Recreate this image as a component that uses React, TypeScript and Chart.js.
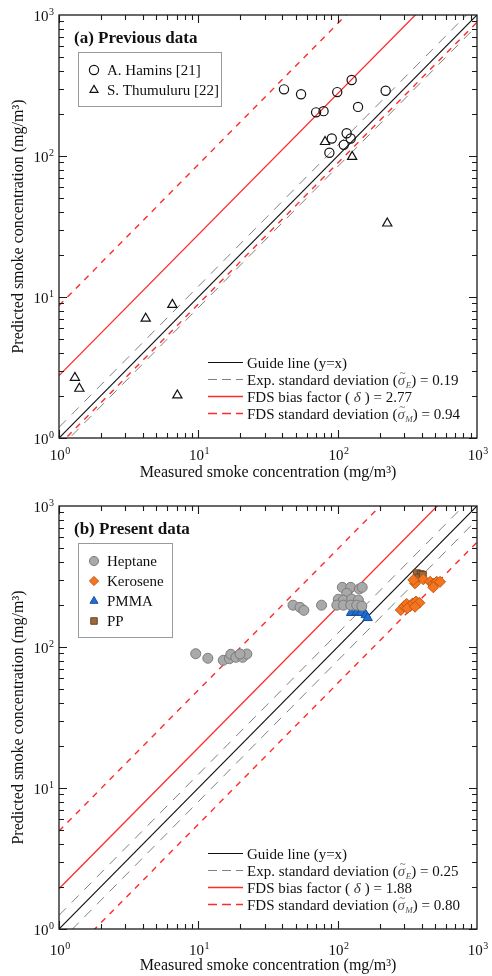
import React, { useEffect, useRef } from "react";
import { Chart, registerables } from "chart.js";
import { drawPoint } from "chart.js/helpers";

Chart.register(...registerables);

const FONT = '"Liberation Serif", "Times New Roman", serif';

// ---------- Data: panel (a) previous data ----------
const haminsX = [41.2, 54.6, 70.0, 79.2, 99.3, 126, 140, 221, 90.7, 87.2, 110.6, 116, 124];
const haminsY = [297, 274, 204, 208, 284, 346, 223, 290, 133, 105.5, 120, 145, 133];
const thumuluruX = [81.2, 127, 227, 6.51, 4.19, 1.3, 1.4, 7.07];
const thumuluruY = [126, 98.9, 33.3, 8.82, 7.04, 2.68, 2.24, 2.01];

// line multipliers for panel (a)
const guideA = 1;
const expUpperA = 1.19;
const expLowerA = 0.84;
const biasA = 2.77;
const fdsUpperA = 8.7;
const fdsLowerA = 0.89;

// ---------- Data: panel (b) present data ----------
const heptaneX = [9.58, 11.7, 15.1, 16.7, 17.1, 18.6, 20.8, 22.3, 19.9, 47.8, 53.7, 57.2, 76.6, 108, 124, 143, 150, 116, 101, 110, 126, 141, 98.6, 110, 124, 137, 149];
const heptaneY = [89.6, 83.2, 80.5, 82.6, 88.8, 84.5, 84.5, 89.2, 89.2, 198, 191, 182, 198, 265, 265, 258, 265, 240, 218, 215, 219, 215, 198, 198, 198, 198, 195];
const keroseneX = [284, 300, 313, 331, 346, 365, 386, 316, 359, 359, 412, 461, 486, 514, 543, 486, 349];
const keroseneY = [183, 195, 202, 195, 204, 210, 206, 188, 193, 283, 302, 290, 280, 290, 290, 265, 299];
const pmmaX = [125, 137, 147, 159, 164];
const pmmaY = [175, 177, 175, 169, 161];
const ppX = [370, 395, 380, 408];
const ppY = [333, 328, 310, 324];

const guideB = 1;
const expUpperB = 1.25;
const expLowerB = 0.8;
const biasB = 1.93;
const fdsUpperB = 4.95;
const fdsLowerB = 0.553;

// ---------- Labels ----------
const tickExponents = ["0", "1", "2", "3"];
const xTitle = "Measured smoke concentration (mg/m\u00B3)";
const yTitle = "Predicted smoke concentration (mg/m\u00B3)";
const titleA = "(a) Previous data";
const titleB = "(b) Present data";
const sigmaEA = "0.19";
const sigmaMA = "0.94";
const deltaA = "2.77";
const sigmaEB = "0.25";
const sigmaMB = "0.80";
const deltaB = "1.88";

const pts = (xs: number[], ys: number[]) => xs.map((x, i) => ({ x, y: ys[i] }));
const lineOf = (k: number) => [
  { x: 1, y: k },
  { x: 1000, y: 1000 * k },
];

const BLACK_LINE = { borderColor: "#111", borderWidth: 1.2, borderDash: [] as number[] };
const GRAY_DASH = { borderColor: "#808080", borderWidth: 1, borderDash: [10, 8] };
const RED_LINE = { borderColor: "#ff2a2a", borderWidth: 1.3, borderDash: [] as number[] };
const RED_DASH = { borderColor: "#ff2a2a", borderWidth: 1.4, borderDash: [6, 6] };

function lineDS(label: string, k: number, style: any) {
  return {
    label,
    data: lineOf(k),
    showLine: true,
    pointRadius: 0,
    pointHoverRadius: 0,
    fill: false,
    tension: 0,
    ...style,
  };
}

type Seg = { t: string; italic?: boolean; sub?: boolean; tilde?: boolean; color?: string };

function drawSegs(ctx: CanvasRenderingContext2D, segs: Seg[], x: number, y: number, size: number) {
  let cx = x;
  for (const s of segs) {
    const fs = s.sub ? Math.round(size * 0.62) : size;
    ctx.font = `${s.italic ? "italic " : ""}${fs}px ${FONT}`;
    ctx.fillStyle = s.color || "#111";
    ctx.fillText(s.t, cx, s.sub ? y + 3.5 : y);
    const w = ctx.measureText(s.t).width;
    if (s.tilde) {
      ctx.font = `${Math.round(size * 0.7)}px ${FONT}`;
      ctx.textAlign = "center";
      ctx.fillText("~", cx + w / 2 + 1.2, y - 8.5);
      ctx.textAlign = "left";
    }
    cx += w + (s.italic && !s.sub ? 0.5 : 0);
  }
}

function drawPow(ctx: CanvasRenderingContext2D, exp: string, x: number, y: number, align: "right" | "center") {
  ctx.font = `15px ${FONT}`;
  const w1 = ctx.measureText("10").width;
  ctx.font = `10px ${FONT}`;
  const w2 = ctx.measureText(exp).width;
  const total = w1 + w2 + 0.5;
  const start = align === "right" ? x - total : x - total / 2;
  ctx.fillStyle = "#111";
  ctx.font = `15px ${FONT}`;
  ctx.fillText("10", start, y);
  ctx.font = `10px ${FONT}`;
  ctx.fillText(exp, start + w1 + 0.5, y - 6.5);
}

type Panel = {
  title: string;
  markerLegend: { label: string; ds: number }[];
  lineLegend: { segs: Seg[]; style: any }[];
  tickOff: number;
  titleOff: number;
};

function decorPlugin(p: Panel) {
  return {
    id: "decor",
    afterDraw(chart: any) {
      const { ctx, chartArea: a } = chart;
      const xs = chart.scales.x;
      const ys = chart.scales.y;
      ctx.save();
      ctx.textAlign = "left";
      ctx.textBaseline = "alphabetic";

      // frame
      ctx.strokeStyle = "#1a1a1a";
      ctx.lineWidth = 1.3;
      ctx.strokeRect(a.left, a.top, a.right - a.left, a.bottom - a.top);

      // inward ticks on four sides
      ctx.lineWidth = 1.1;
      ctx.beginPath();
      for (let d = 0; d < 3; d++) {
        for (let m = 1; m <= 9; m++) {
          const v = m * Math.pow(10, d);
          const len = m === 1 ? 8 : 5;
          const px = Math.round(xs.getPixelForValue(v)) + 0.5;
          const py = Math.round(ys.getPixelForValue(v)) + 0.5;
          ctx.moveTo(px, a.bottom);
          ctx.lineTo(px, a.bottom - len);
          ctx.moveTo(px, a.top);
          ctx.lineTo(px, a.top + len);
          ctx.moveTo(a.left, py);
          ctx.lineTo(a.left + len, py);
          ctx.moveTo(a.right, py);
          ctx.lineTo(a.right - len, py);
        }
      }
      ctx.stroke();

      // tick labels
      tickExponents.forEach((e, i) => {
        const v = Math.pow(10, i);
        const px = xs.getPixelForValue(v);
        const py = ys.getPixelForValue(v);
        drawPow(ctx, e, px + 1, a.bottom + p.tickOff + 5, "center");
        drawPow(ctx, e, 54, py + 6, "right");
      });

      // axis titles
      ctx.fillStyle = "#111";
      ctx.font = `16px ${FONT}`;
      ctx.textAlign = "center";
      ctx.fillText(xTitle, (a.left + a.right) / 2, a.bottom + p.titleOff + 5);
      ctx.save();
      ctx.translate(23, (a.top + a.bottom) / 2);
      ctx.rotate(-Math.PI / 2);
      ctx.fillText(yTitle, 0, 0);
      ctx.restore();
      ctx.textAlign = "left";

      // panel title
      ctx.font = `bold 17px ${FONT}`;
      ctx.fillText(p.title, 74, a.top + 28);

      // marker legend box
      const n = p.markerLegend.length;
      const boxTop = a.top + 37;
      const boxH = 14 + 20 * n;
      ctx.fillStyle = "#fff";
      ctx.fillRect(78.5, boxTop + 0.5, n === 2 ? 143 : 94, boxH);
      ctx.strokeStyle = "#9a9a9a";
      ctx.lineWidth = 1;
      ctx.strokeRect(78.5, boxTop + 0.5, n === 2 ? 143 : 94, boxH);
      p.markerLegend.forEach((it, i) => {
        const cy = a.top + 55 + 20 * i;
        const ds = chart.data.datasets[it.ds];
        ctx.save();
        ctx.fillStyle = ds.backgroundColor;
        ctx.strokeStyle = ds.borderColor;
        ctx.lineWidth = ds.borderWidth;
        drawPoint(ctx, { pointStyle: ds.pointStyle, radius: Math.min(ds.pointRadius, 4.6), borderWidth: ds.borderWidth, rotation: 0 }, 94, cy);
        ctx.restore();
        ctx.fillStyle = "#111";
        ctx.font = `15px ${FONT}`;
        ctx.fillText(it.label, 107, cy + 5);
      });

      // line legend
      p.lineLegend.forEach((it, i) => {
        const cy = Math.round(a.bottom - 76 + 17 * i) + 0.5;
        ctx.save();
        ctx.strokeStyle = it.style.borderColor;
        ctx.lineWidth = it.style.borderWidth;
        ctx.setLineDash(it.style.borderDash.length ? [9, 5] : []);
        ctx.beginPath();
        ctx.moveTo(208, cy);
        ctx.lineTo(243, cy);
        ctx.stroke();
        ctx.restore();
        drawSegs(ctx, it.segs, 247, cy + 5, 15);
      });

      ctx.restore();
    },
  };
}

function lineLegendSegs(sE: string, d: string, sM: string) {
  return [
    { segs: [{ t: "Guide line (y=x)" }], style: BLACK_LINE },
    {
      segs: [
        { t: "Exp. standard deviation (" },
        { t: "\u03C3", italic: true, tilde: true, color: "#555" },
        { t: "E", italic: true, sub: true, color: "#555" },
        { t: ") = " + sE },
      ],
      style: GRAY_DASH,
    },
    {
      segs: [{ t: "FDS bias factor ( " }, { t: "\u03B4", italic: true, color: "#333" }, { t: " ) = " + d }],
      style: RED_LINE,
    },
    {
      segs: [
        { t: "FDS standard deviation (" },
        { t: "\u03C3", italic: true, tilde: true, color: "#555" },
        { t: "M", italic: true, sub: true, color: "#555" },
        { t: ") = " + sM },
      ],
      style: RED_DASH,
    },
  ];
}

function baseOptions(padTop: number, xAxisH: number) {
  return {
    responsive: false,
    animation: false as const,
    devicePixelRatio: 1,
    layout: { padding: { left: 0, right: 15, top: padTop, bottom: 0 } },
    plugins: { legend: { display: false }, tooltip: { enabled: false } },
    events: [] as any[],
    scales: {
      x: {
        type: "logarithmic" as const,
        min: 1,
        max: 1000,
        position: "bottom" as const,
        grid: { display: false },
        border: { display: false },
        ticks: { display: false },
        afterFit: (s: any) => {
          s.height = xAxisH;
        },
      },
      y: {
        type: "logarithmic" as const,
        min: 1,
        max: 1000,
        position: "left" as const,
        grid: { display: false },
        border: { display: false },
        ticks: { display: false },
        afterFit: (s: any) => {
          s.width = 59;
        },
      },
    },
  };
}

function makeConfigA(): any {
  const datasets = [
    {
      label: "A. Hamins [21]",
      data: pts(haminsX, haminsY),
      pointStyle: "circle",
      pointRadius: 4.6,
      backgroundColor: "rgba(0,0,0,0)",
      borderColor: "#111",
      borderWidth: 1.2,
    },
    {
      label: "S. Thumuluru [22]",
      data: pts(thumuluruX, thumuluruY),
      pointStyle: "triangle",
      pointRadius: 5.3,
      backgroundColor: "rgba(0,0,0,0)",
      borderColor: "#111",
      borderWidth: 1.2,
    },
    lineDS("Guide line", guideA, BLACK_LINE),
    lineDS("Exp upper", expUpperA, GRAY_DASH),
    lineDS("Exp lower", expLowerA, GRAY_DASH),
    lineDS("Bias", biasA, RED_LINE),
    lineDS("FDS upper", fdsUpperA, RED_DASH),
    lineDS("FDS lower", fdsLowerA, RED_DASH),
  ];
  return {
    type: "scatter",
    data: { datasets },
    options: baseOptions(15, 50),
    plugins: [
      decorPlugin({
        title: titleA,
        markerLegend: [
          { label: "A. Hamins [21]", ds: 0 },
          { label: "S. Thumuluru [22]", ds: 1 },
        ],
        lineLegend: lineLegendSegs(sigmaEA, deltaA, sigmaMA),
        tickOff: 17,
        titleOff: 34,
      }),
    ],
  };
}

function makeConfigB(): any {
  const datasets = [
    {
      label: "Heptane",
      data: pts(heptaneX, heptaneY),
      pointStyle: "circle",
      pointRadius: 5,
      backgroundColor: "#a9a9a9",
      borderColor: "#7c7c7c",
      borderWidth: 1,
    },
    {
      label: "Kerosene",
      data: pts(keroseneX, keroseneY),
      pointStyle: "rectRot",
      pointRadius: 5.5,
      backgroundColor: "#f47420",
      borderColor: "#c4560e",
      borderWidth: 1,
    },
    {
      label: "PMMA",
      data: pts(pmmaX, pmmaY),
      pointStyle: "triangle",
      pointRadius: 5.5,
      backgroundColor: "#1f6fd0",
      borderColor: "#114f9e",
      borderWidth: 1,
    },
    {
      label: "PP",
      data: pts(ppX, ppY),
      pointStyle: "rect",
      pointRadius: 5,
      backgroundColor: "#9c6a3a",
      borderColor: "#6a4422",
      borderWidth: 1,
    },
    lineDS("Guide line", guideB, BLACK_LINE),
    lineDS("Exp upper", expUpperB, GRAY_DASH),
    lineDS("Exp lower", expLowerB, GRAY_DASH),
    lineDS("Bias", biasB, RED_LINE),
    lineDS("FDS upper", fdsUpperB, RED_DASH),
    lineDS("FDS lower", fdsLowerB, RED_DASH),
  ];
  return {
    type: "scatter",
    data: { datasets },
    options: baseOptions(18, 47),
    plugins: [
      decorPlugin({
        title: titleB,
        markerLegend: [
          { label: "Heptane", ds: 0 },
          { label: "Kerosene", ds: 1 },
          { label: "PMMA", ds: 2 },
          { label: "PP", ds: 3 },
        ],
        lineLegend: lineLegendSegs(sigmaEB, deltaB, sigmaMB),
        tickOff: 21,
        titleOff: 36,
      }),
    ],
  };
}

function ChartCanvas({ make }: { make: () => any }) {
  const ref = useRef<HTMLCanvasElement | null>(null);
  useEffect(() => {
    if (!ref.current) return;
    const chart = new Chart(ref.current, make());
    return () => chart.destroy();
  }, [make]);
  return <canvas ref={ref} width={492} height={488} style={{ display: "block", width: 492, height: 488 }} />;
}

export default function App() {
  return (
    <div style={{ position: "absolute", left: 0, top: 0, width: 492, height: 976, background: "#fff" }}>
      <ChartCanvas make={makeConfigA} />
      <ChartCanvas make={makeConfigB} />
    </div>
  );
}
